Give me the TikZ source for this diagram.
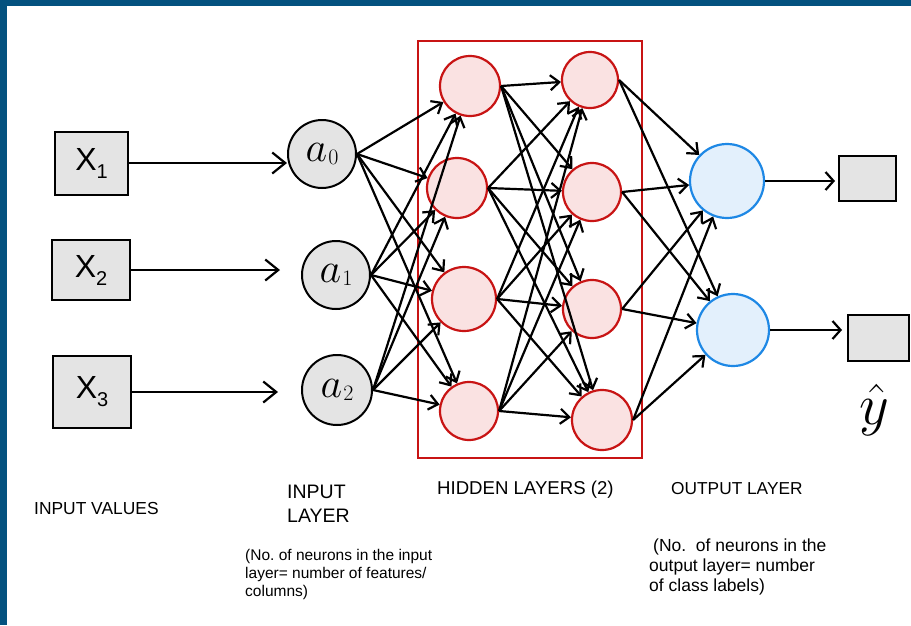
\RequirePackage{fix-cm}
\documentclass[tikz,border=0pt]{standalone}
\usepackage{fontspec}
\setmainfont{Liberation Sans}
\usetikzlibrary{arrows.meta}
\frenchspacing
\definecolor{bordblue}{RGB}{4,82,127}
\definecolor{hidred}{RGB}{200,20,20}
\definecolor{hidfill}{RGB}{250,226,226}
\definecolor{outblue}{RGB}{30,136,229}
\definecolor{outfill}{RGB}{227,240,252}
\definecolor{boxgray}{RGB}{228,228,228}
\newcommand{\xlab}[1]{{\fontsize{32}{32}\selectfont X\raisebox{-8pt}{\fontsize{20}{20}\selectfont #1}}}
\newcommand{\alab}[1]{{\fontsize{42}{42}\selectfont$a$\kern1pt\raisebox{-3pt}{\fontsize{22}{22}\selectfont$#1$}}}
\begin{document}
\begin{tikzpicture}[x=1pt,y=-1pt,
  valbox/.style={draw=black, line width=2pt, fill=boxgray, inner sep=0pt},
  inneuron/.style={circle, draw=black, line width=2pt, fill=boxgray, inner sep=0pt},
  hidneuron/.style={circle, draw=hidred, line width=2.2pt, fill=hidfill, inner sep=0pt},
  outneuron/.style={circle, draw=outblue, line width=2.2pt, fill=outfill, inner sep=0pt},
  conn/.style={line width=2.2pt, -{Straight Barb[length=9pt,width=15pt,line width=2.2pt]}},
  bigarrow/.style={line width=2.2pt, -{Straight Barb[length=13pt,width=21pt,line width=2.2pt]}},
  outarrow/.style={line width=2.2pt, -{Straight Barb[length=8pt,width=18pt,line width=2.2pt]}},
  lbl/.style={inner sep=0pt, anchor=base west},
  para/.style={inner sep=0pt, anchor=north west, align=left}]
\useasboundingbox (0,0) rectangle (911,625);
\fill[white] (0,0) rectangle (911,625);
\fill[bordblue] (0,0) rectangle (911,6);
\fill[bordblue] (0,0) rectangle (7,625);

% hidden-layer frame
\node[draw=hidred, line width=2pt, minimum width=224pt, minimum height=417pt, inner sep=0pt] (hidbox) at (530,249.5) {};

% input value boxes
\node[valbox, minimum width=73pt, minimum height=63pt] (x1) at (91.5,163) {\xlab{1}};
\node[valbox, minimum width=78pt, minimum height=60pt] (x2) at (91,270) {\xlab{2}};
\node[valbox, minimum width=78pt, minimum height=72pt] (x3) at (92,392) {\xlab{3}};

% input layer
\node[inneuron, minimum size=68pt] (a0) at (322,154) {\alab{0}};
\node[inneuron, minimum size=68pt] (a1) at (336,275) {\alab{1}};
\node[inneuron, minimum size=70pt] (a2) at (337,390) {\alab{2}};

% hidden layer 1
\node[hidneuron, minimum size=60pt] (h1) at (470,86) {};
\node[hidneuron, minimum size=60pt] (h2) at (457,188) {};
\node[hidneuron, minimum size=64pt] (h3) at (464,299) {};
\node[hidneuron, minimum size=58pt] (h4) at (469,411) {};

% hidden layer 2
\node[hidneuron, minimum size=56pt] (g1) at (590,80) {};
\node[hidneuron, minimum size=58pt] (g2) at (592,192) {};
\node[hidneuron, minimum size=58pt] (g3) at (592,309) {};
\node[hidneuron, minimum size=60pt] (g4) at (602,420) {};

% output layer
\node[outneuron, minimum size=74pt] (o1) at (727,181) {};
\node[outneuron, minimum size=72pt] (o2) at (733,330) {};

% output boxes
\node[valbox, minimum width=57pt, minimum height=45pt] (ob1) at (867.5,178.5) {};
\node[valbox, minimum width=61pt, minimum height=46pt] (ob2) at (878.5,338) {};
\node[inner sep=0pt] (yhat) at (874,410) {\fontsize{58}{58}\selectfont$\hat{y}$};

% arrows into the input layer
\draw[bigarrow] (x1.east) -- (x1.east -| a0.west);
\draw[bigarrow, shorten >=21pt] (x2.east) -- (x2.east -| a1.west);
\draw[bigarrow, shorten >=23pt] (x3.east) -- (x3.east -| a2.west);

% fully connected layers
\foreach \s in {a0,a1,a2}
  \foreach \t in {h1,h2,h3,h4}
    \draw[conn] (\s.east) -- (\t);
\foreach \s in {h1,h2,h3,h4}
  \foreach \t in {g1,g2,g3,g4}
    \draw[conn] (\s.east) -- (\t);
\foreach \s in {g1,g2,g3,g4}
  \foreach \t in {o1,o2}
    \draw[conn] (\s.east) -- (\t);

% outputs
\draw[outarrow, shorten >=3pt] (o1.east) -- (o1.east -| ob1.west);
\draw[outarrow, shorten >=5pt] (o2.east) -- (o2.east -| ob2.west);

% labels
\node[lbl, font=\fontsize{17.4}{21}\selectfont] (tvals) at (34,514) {INPUT VALUES};
\node[para, font=\fontsize{19.5}{24}\selectfont] (tinl) at (287,485) {INPUT\\LAYER};
\node[lbl, font=\fontsize{18.6}{22}\selectfont] (thid) at (437,494.6) {HIDDEN LAYERS (2)};
\node[lbl, font=\fontsize{17.3}{21}\selectfont] (tout) at (671,494) {OUTPUT LAYER};
\node[para, font=\fontsize{15.5}{18}\selectfont] (noteleft) at (245,548.7) {(No. of neurons in the input\\layer= number of features/\\columns)};
\node[para, font=\fontsize{17.5}{20}\selectfont] (noteright) at (649,538.7) {\hspace{4pt}(No.\ \ of neurons in the\\output layer= number\\of class labels)};
\end{tikzpicture}
\end{document}
